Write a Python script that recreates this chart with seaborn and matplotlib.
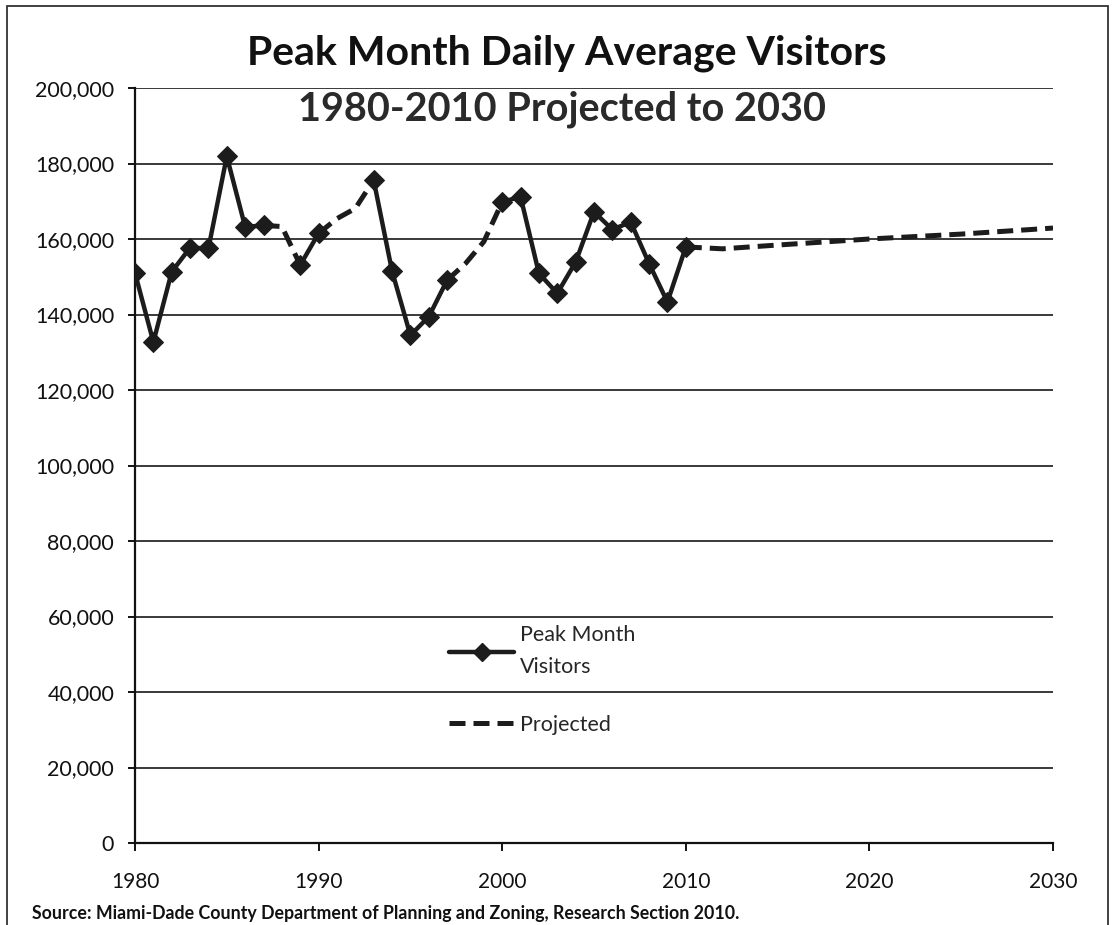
import numpy as np
import pandas as pd
import matplotlib
matplotlib.use("Agg")
import matplotlib.pyplot as plt
from matplotlib.lines import Line2D
from matplotlib.patches import Rectangle
from matplotlib.ticker import FuncFormatter
import seaborn as sns

# ---- data ----
years = list(range(1980, 2011))
visitors = [151000, 132700, 151300, 157700, 157500, 181900, 163200, 163600, np.nan,
            153100, 161500, np.nan, np.nan, 175600, 151500, 134500, 139400, 149100,
            np.nan, np.nan, 169800, 171200, 150900, 145600, 153900, 167200, 162500,
            164500, 153500, 143300, 157900]

# dashed estimates bridging the gaps in the actual series
gap_years = [1987, 1988, 1989, 1990, 1991, 1992, 1993, 1997, 1998, 1999, 2000]
gap_values = [163600, 163300, 153100, 161500, 165400, 168100, 175600, 149100, 153500, 159300, 169800]
gap_segment = [0, 0, 0, 1, 1, 1, 1, 2, 2, 2, 2]

proj_years = [2010, 2012, 2015, 2020, 2025, 2030]
proj_values = [157900, 157400, 158400, 160000, 161300, 162900]

y_ticks = [0, 20000, 40000, 60000, 80000, 100000, 120000, 140000, 160000, 180000, 200000]
x_ticks = [1980, 1990, 2000, 2010, 2020, 2030]

title = "Peak Month Daily Average Visitors"
subtitle = "1980-2010 Projected to 2030"
source = "Source: Miami-Dade County Department of Planning and Zoning, Research Section 2010."
series_labels = ["Peak Month\nVisitors", "Projected"]

# ---- build tables ----
actual = pd.DataFrame({"year": years, "visitors": visitors})
actual["segment"] = actual["visitors"].isna().cumsum()
actual = actual.dropna()

bridge = pd.DataFrame({"year": gap_years, "visitors": gap_values, "segment": gap_segment})
proj = pd.DataFrame({"year": proj_years, "visitors": proj_values, "segment": 9})
dashed = pd.concat([bridge, proj], ignore_index=True)

sns.set_theme(style="white")
plt.rcParams["font.family"] = ["Lato", "DejaVu Sans"]

LINE = "#1c1c1c"
fig = plt.figure(figsize=(11.15, 9.25), dpi=100)
ax = fig.add_axes([135 / 1115, 1 - 843 / 925, 918 / 1115, 755 / 925])

for yv in y_ticks:
    ax.axhline(yv, color="#2a2a2a", lw=1.3, zorder=1)

sns.lineplot(data=dashed, x="year", y="visitors", units="segment", estimator=None,
             color=LINE, lw=3.6, ax=ax, zorder=3, dashes=False)
for l in ax.get_lines()[len(y_ticks):]:
    l.set_dashes([3.2, 1.6])
    l.set_dash_capstyle("butt")

sns.lineplot(data=actual, x="year", y="visitors", units="segment", estimator=None,
             color=LINE, lw=3.2, marker="D", markersize=10, markeredgecolor=LINE,
             markerfacecolor=LINE, ax=ax, zorder=4)

ax.set_xlim(1980, 2030)
ax.set_ylim(0, 200000)
ax.set_xticks(x_ticks)
ax.set_yticks(y_ticks)
ax.yaxis.set_major_formatter(FuncFormatter(lambda v, p: f"{int(v):,}"))
ax.set_xlabel("")
ax.set_ylabel("")
for s in ["top", "right"]:
    ax.spines[s].set_visible(False)
for s in ["left", "bottom"]:
    ax.spines[s].set_visible(True)
    ax.spines[s].set_color("#111111")
    ax.spines[s].set_linewidth(1.6)
ax.tick_params(axis="x", which="major", bottom=True, direction="out", length=6, width=1.4,
               color="#111111", pad=15, labelsize=15, labelcolor="#111111")
ax.tick_params(axis="y", which="major", left=True, direction="out", length=5, width=1.4,
               color="#111111", pad=10, labelsize=15.5, labelcolor="#111111")

# legend
handles = [
    Line2D([0, 0.5, 1], [0, 0, 0], color=LINE, lw=3.2, marker="D", markersize=9, markevery=[1]),
    Line2D([], [], color=LINE, lw=3.6, dashes=[3.2, 1.6]),
]
leg = ax.legend(handles, series_labels, loc="upper left", bbox_to_anchor=(0.333, 0.300),
                frameon=False, fontsize=15.5, handlelength=3.0, handletextpad=0.3,
                labelspacing=1.75, borderaxespad=0)
for t in leg.get_texts():
    t.set_linespacing(1.75)

fig.text(567 / 1115, 1 - 53 / 925, title, ha="center", va="center", fontsize=29.5,
         fontweight="bold", color="#111111")
fig.text(562 / 1115, 1 - 109 / 925, subtitle, ha="center", va="center", fontsize=28.5,
         fontweight="bold", color="#2a2a2a")
fig.text(32 / 1115, 1 - 913 / 925, source, ha="left", va="center", fontsize=12.8,
         fontweight="bold", color="#111111")

fig.patches.append(Rectangle((7 / 1115, -0.02), 1101 / 1115, 1.0 - 6 / 925 + 0.02,
                             transform=fig.transFigure, fill=False, edgecolor="#333333",
                             lw=1.3))

fig.savefig("out.png", dpi=100, facecolor="white")
